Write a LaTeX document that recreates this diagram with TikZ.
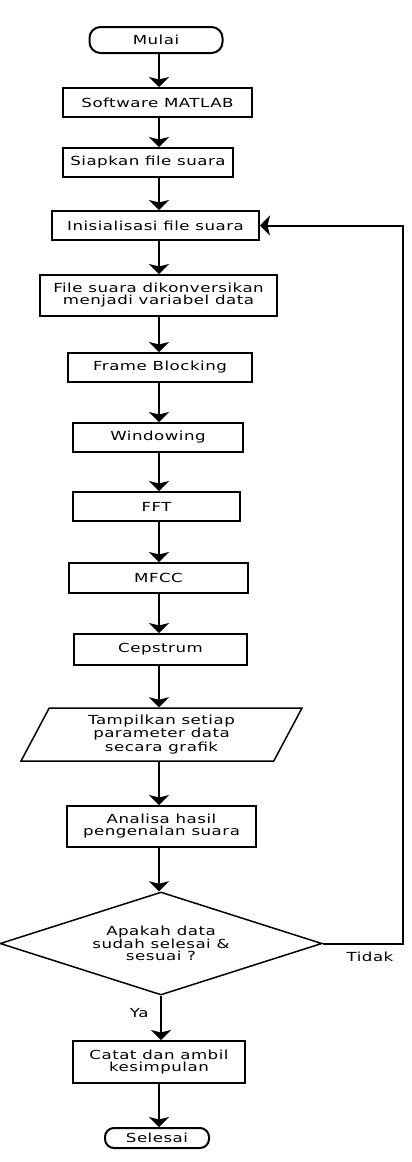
\documentclass[tikz,border=0pt]{standalone}
\usepackage{fontspec}
\setmainfont{DejaVu Sans}[FakeStretch=1.33,LetterSpace=4]
\usetikzlibrary{arrows.meta,shapes.geometric,shapes.misc}

\tikzset{
  teks/.style={font=\fontsize{12.5}{12}\selectfont},
  proses/.style={teks, draw, line width=2pt, inner sep=0pt, align=center},
  terminal/.style={proses, rounded corners=11pt},
  masukan/.style={teks, draw, trapezium, trapezium left angle=53.6, trapezium right angle=126.4,
    trapezium stretches body, line width=1.5pt, inner sep=0pt, align=center},
  keputusan/.style={teks, draw, diamond, aspect=3.13, line width=1.5pt, inner sep=0pt, align=center},
  alur/.style={->, line width=2.4pt}
}

\begin{document}
\begin{tikzpicture}[x=1pt,y=-1pt,>={Stealth[length=10pt,width=20pt,inset=2.5pt]}]
\useasboundingbox (0,0) rectangle (412,1162);
\coordinate (spine) at (159,0);
\coordinate (balik) at (403,0);

\node[terminal, minimum width=133pt, minimum height=26pt] (mulai) at (156,40) {Mulai};
\node[proses, minimum width=189pt, minimum height=29pt] (software) at (157.5,102.5) {Software MATLAB};
\node[proses, minimum width=170pt, minimum height=29pt] (siapkan) at (148,162.5) {Siapkan file suara};
\node[proses, minimum width=207pt, minimum height=29pt] (init) at (155.5,225.5) {Inisialisasi file suara};
\node[proses, minimum width=237pt, minimum height=41pt] (konversi) at (158.5,295.5) {File suara dikonversikan\\menjadi variabel data};
\node[proses, minimum width=184pt, minimum height=29pt] (frame) at (160,367.5) {Frame Blocking};
\node[proses, minimum width=170pt, minimum height=29pt] (window) at (158,437.5) {Windowing};
\node[proses, minimum width=167pt, minimum height=29pt] (fft) at (156.5,506.5) {FFT};
\node[proses, minimum width=179pt, minimum height=30pt] (mfcc) at (158.5,578) {MFCC};
\node[proses, minimum width=173pt, minimum height=31pt] (cepstrum) at (160.5,649.5) {Cepstrum};
\node[masukan, minimum width=281pt, minimum height=53pt] (tampil) at (161.5,734.5) {Tampilkan setiap\\parameter data\\secara grafik};
\node[proses, minimum width=189pt, minimum height=41pt] (analisa) at (161.5,826.5) {Analisa hasil\\pengenalan suara};
\node[keputusan, minimum width=322pt, minimum height=103pt] (cek) at (161,943.5) {Apakah data\\sudah selesai \&\\sesuai ?};
\node[proses, minimum width=172pt, minimum height=42pt] (catat) at (159,1062) {Catat dan ambil\\kesimpulan};
\node[terminal, minimum width=104pt, minimum height=20pt, rounded corners=9pt] (selesai) at (157,1138) {Selesai};
\node[teks] (tidak) at (370,957) {Tidak};

\draw[alur] (mulai.south -| spine) -- (software.north -| spine);
\draw[alur] (software.south -| spine) -- (siapkan.north -| spine);
\draw[alur] (siapkan.south -| spine) -- (init.north -| spine);
\draw[alur] (init.south -| spine) -- (konversi.north -| spine);
\draw[alur] (konversi.south -| spine) -- (frame.north -| spine);
\draw[alur] (frame.south -| spine) -- (window.north -| spine);
\draw[alur] (window.south -| spine) -- (fft.north -| spine);
\draw[alur] (fft.south -| spine) -- (mfcc.north -| spine);
\draw[alur] (mfcc.south -| spine) -- (cepstrum.north -| spine);
\draw[alur] (cepstrum.south -| spine) -- (tampil.north -| spine);
\draw[alur] (tampil.south -| spine) -- (analisa.north -| spine);
\draw[alur] (analisa.south -| spine) -- (cek.north -| spine);
\draw[alur] (cek.south) -- node[teks, left=8pt, pos=.4] {Ya} (catat.north -| cek.south);
\draw[alur] (catat.south -| spine) -- (selesai.north -| spine);
\draw[alur, line width=2pt] (cek.east) -| (balik |- init.east) -- (init.east);

\end{tikzpicture}
\end{document}
